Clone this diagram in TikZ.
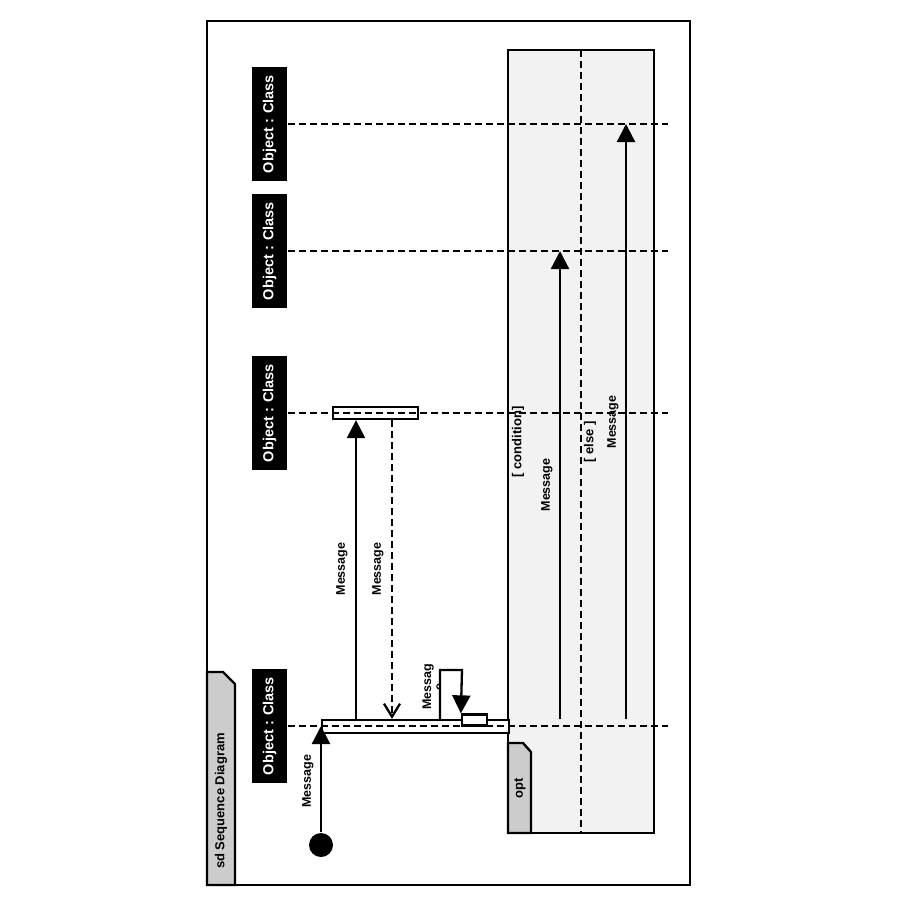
\documentclass[tikz,border=0pt]{standalone}
\usepackage{fontspec}
\setmainfont{Liberation Sans}
\usetikzlibrary{arrows.meta}
\definecolor{tabgray}{HTML}{CCCCCC}
\definecolor{optfill}{HTML}{F2F2F2}

\begin{document}
\begin{tikzpicture}[x=1pt,y=-1pt,line width=2.3pt,
  head/.style={fill=black,text=white,font=\bfseries\fontsize{14.5}{16}\selectfont,
    rotate=90,minimum width=114pt,minimum height=35pt,inner sep=0pt},
  lifeline/.style={dash pattern=on 7pt off 4pt},
  lbl/.style={font=\bfseries\fontsize{12.5}{12}\selectfont,rotate=90,inner sep=0pt},
  msg/.style={-{Triangle[length=18pt,width=18pt]}},
  ret/.style={dash pattern=on 7pt off 4pt,-{Straight Barb[length=13pt,width=16pt]}},
  actbar/.style={draw,fill=white,inner sep=0pt}]
\useasboundingbox (0,0) rectangle (900,900);
% frame
\draw (207,21) rectangle (690,885);
\filldraw[fill=tabgray] (207,672) -- (223,672) -- (235,684) -- (235,885) -- (207,885) -- cycle;
\node[lbl,font=\bfseries\fontsize{13}{15}\selectfont] (sd) at (221,801) {sd Sequence Diagram};
% opt fragment
\filldraw[fill=optfill] (508,50) rectangle (654,833);
\draw[lifeline] (581,50) -- (581,833);
\filldraw[fill=tabgray] (508,743) -- (523,743) -- (531,752) -- (531,833) -- (508,833) -- cycle;
\node[lbl,font=\bfseries\fontsize{13}{15}\selectfont] (opt) at (520,788) {opt};
\node[lbl,font=\bfseries\fontsize{13}{15}\selectfont] (guard1) at (518,442) {[ condition]};
\node[lbl,font=\bfseries\fontsize{13}{15}\selectfont] (guard2) at (590,442) {[ else ]};
% heads and bars
\foreach \n/\y in {1/124,2/251,3/413,4/726} {
  \node[head] (obj\n) at (269.5,\y) {Object : Class};
  \coordinate (end\n) at (668,\y);
}
\node[actbar,minimum width=187pt,minimum height=13pt] (act4) at (415.5,726.5) {};
\node[actbar,minimum width=85pt,minimum height=12pt] (act3) at (375.5,413) {};
% lifelines
\foreach \n in {1,...,4}
  \draw[lifeline] (obj\n.south) -- (end\n);
\node[actbar,minimum width=25pt,minimum height=11pt] (nest) at (474.5,720) {};
% messages
\node[circle,fill=black,minimum size=24pt,inner sep=0pt] (found) at (321,845) {};
\draw[msg] (found) -- (found |- obj4.south);
\node[lbl] (lfound) at (308,781) {Message};
\coordinate (call) at (356,0);
\coordinate (back) at (392,0);
\draw[msg] (act4.north -| call) -- (act3.south -| call);
\draw[ret] (act3.south -| back) -- (act4.north -| back);
\node[lbl] (lcall) at (342,569) {Message};
\node[lbl] (lback) at (378,569) {Message};
\coordinate (self1) at (440,720);
\coordinate (self2) at (440,670);
\coordinate (self3) at (462,670);
\draw[msg] (self1) -- (self2) -- (self3) -- (nest.north west);
\begin{scope}
\clip (400,640) rectangle (439,720);
\node[lbl,align=center] (lself) at (433,687) {Messag\\e};
\end{scope}
\coordinate (alt1) at (560,719);
\coordinate (alt2) at (626,719);
\draw[msg] (alt1) -- (alt1 |- obj2.south);
\draw[msg] (alt2) -- (alt2 |- obj1.south);
\node[lbl] (lalt1) at (547,485) {Message};
\node[lbl] (lalt2) at (613,422) {Message};
\end{tikzpicture}
\end{document}
